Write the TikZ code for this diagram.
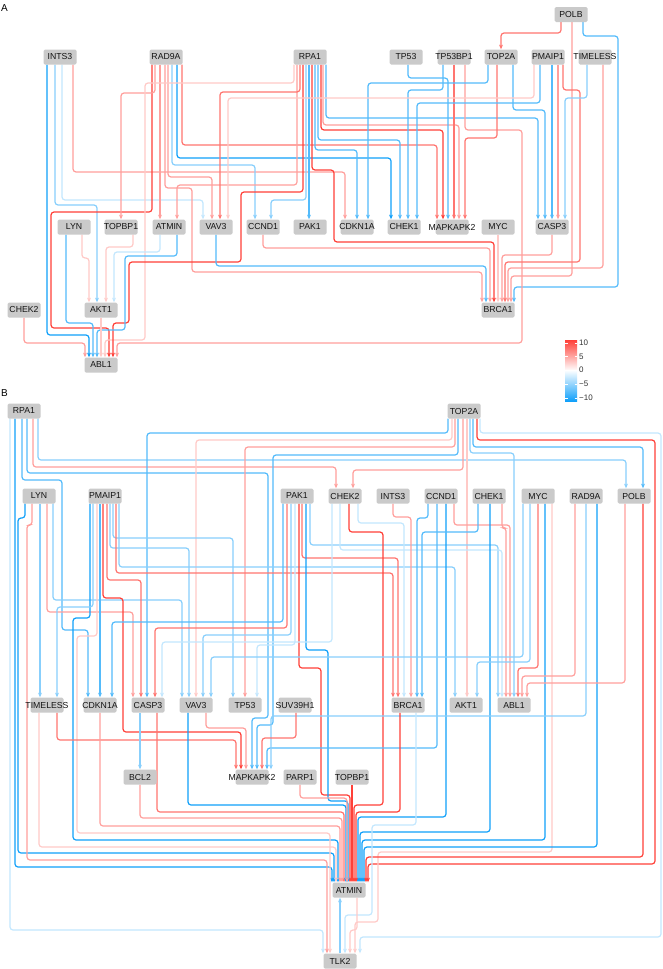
\documentclass[tikz,border=0pt]{standalone}
\usepackage{fontspec}
\newfontfamily\lsans{Liberation Sans}
\usetikzlibrary{arrows.meta,calc}
\pgfdeclarelayer{bg}
\pgfsetlayers{bg,main}
\definecolor{hi}{RGB}{255,64,56}
\definecolor{lo}{RGB}{16,160,250}
\definecolor{boxg}{RGB}{202,202,202}
\tikzset{
  gene/.style={rectangle, fill=boxg, rounded corners=1.5pt, minimum width=33pt, minimum height=15pt, inner sep=0pt, text=black!92, font=\lsans\fontsize{8.7}{9}\selectfont},
  ed/.style={line width=1.2pt, rounded corners=3pt, -{Stealth[length=4.6pt,width=3.8pt,inset=1.2pt]}},
  r1/.style={ed, draw=hi},
  r2/.style={ed, draw=hi!72!white},
  r3/.style={ed, draw=hi!50!white},
  r4/.style={ed, draw=hi!28!white},
  b1/.style={ed, draw=lo},
  b2/.style={ed, draw=lo!72!white},
  b3/.style={ed, draw=lo!50!white},
  b4/.style={ed, draw=lo!25!white},
  lbl/.style={font=\lsans\fontsize{10}{11}\selectfont, inner sep=0pt, anchor=west},
  leg/.style={font=\lsans\fontsize{8}{9}\selectfont, text=black!80, inner sep=0pt, anchor=west}
}
\newcommand\gn[4]{\node[gene] (#1) at (#2,#3) {\makebox[0pt]{#4}};}
\begin{document}
\begin{tikzpicture}[x=1pt,y=-1pt]
\useasboundingbox (0,0) rectangle (663,969);
\begin{pgfonlayer}{bg}
\fill[white] (0,0) rectangle (663,969);
\end{pgfonlayer}
% ---------------- panel A ----------------
\node[lbl] (labA) at (1,8) {A};
\gn{aPOLB}{571}{14.5}{POLB}
\gn{aINTS3}{60}{57}{INTS3}
\gn{aRAD9A}{166}{57}{RAD9A}
\gn{aRPA1}{310}{57}{RPA1}
\gn{aTP53}{406}{57}{TP53}
\gn{aTP53BP1}{454}{57}{TP53BP1}
\gn{aTOP2A}{501}{57}{TOP2A}
\gn{aPMAIP1}{548}{57}{PMAIP1}
\gn{aTIMELESS}{595}{57}{TIMELESS}
\gn{aLYN}{74}{227}{LYN}
\gn{aTOPBP1}{121}{227}{TOPBP1}
\gn{aATMIN}{169}{227}{ATMIN}
\gn{aVAV3}{216}{227}{VAV3}
\gn{aCCND1}{263}{227}{CCND1}
\gn{aPAK1}{310}{227}{PAK1}
\gn{aCDKN1A}{357}{227}{CDKN1A}
\gn{aCHEK1}{404}{227}{CHEK1}
\gn{aMAPKAPK2}{452}{227}{MAPKAPK2}
\gn{aMYC}{498}{227}{MYC}
\gn{aCASP3}{552}{227}{CASP3}
\gn{aCHEK2}{24}{310}{CHEK2}
\gn{aAKT1}{101}{310}{AKT1}
\gn{aBRCA1}{498}{310}{BRCA1}
\gn{aABL1}{101}{365}{ABL1}
\begin{pgfonlayer}{bg}
\draw[r2] ([xshift=-10pt]aPOLB.south) |- (501,33) -- (aTOP2A.north);
\draw[b2] ([xshift=12pt]aPOLB.south) |- (618,36) |- (514,287) -- ([xshift=16pt]aBRCA1.north);
\draw[r3] ([xshift=1pt]aPOLB.south) |- (511,276) -- ([xshift=13pt]aBRCA1.north);
\draw[b1] ([xshift=-13pt]aINTS3.south) |- (89,335) -- ([xshift=-12pt]aABL1.north);
\draw[b3] ([xshift=-5pt]aINTS3.south) |- (97,205) -- ([xshift=-4pt]aAKT1.north);
\draw[b4] ([xshift=2pt]aINTS3.south) |- (203,200) -- ([xshift=-13pt]aVAV3.north);
\draw[r3] ([xshift=13pt]aINTS3.south) |- (345,172) -- ([xshift=-12pt]aCDKN1A.north);
\draw[r1] ([xshift=-14pt]aRAD9A.south) |- (51,212) |- (109,328) -- ([xshift=8pt]aABL1.north);
\draw[r3] ([xshift=-11pt]aRAD9A.south) |- (121,93) -- (aTOPBP1.north);
\draw[r3] ([xshift=-6pt]aRAD9A.south) -- ([xshift=-9pt]aATMIN.north);
\draw[r3] ([xshift=-1pt]aRAD9A.south) |- (192,188) |- (482,272) -- ([xshift=-16pt]aBRCA1.north);
\draw[r3] ([xshift=2pt]aRAD9A.south) |- (212,177) -- ([xshift=-4pt]aVAV3.north);
\draw[b3] ([xshift=6pt]aRAD9A.south) |- (255,165) -- ([xshift=-8pt]aCCND1.north);
\draw[b1] ([xshift=11pt]aRAD9A.south) |- (391,158) -- ([xshift=-13pt]aCHEK1.north);
\draw[r2] ([xshift=16pt]aRAD9A.south) |- (437,145) -- ([xshift=-15pt]aMAPKAPK2.north);
\draw[r4] ([xshift=-16pt]aRPA1.south) |- (145,83) |- (105,340) -- ([xshift=4pt]aABL1.north);
\draw[r3] ([xshift=-13pt]aRPA1.south) |- (177,185) -- ([xshift=8pt]aATMIN.north);
\draw[r2] ([xshift=-10pt]aRPA1.south) |- (220,92) -- ([xshift=4pt]aVAV3.north);
\draw[r1] ([xshift=-7pt]aRPA1.south) |- (241,192) |- (129,262) |- (113,323) -- ([xshift=12pt]aABL1.north);
\draw[b3] ([xshift=-4pt]aRPA1.south) |- (271,200) -- ([xshift=8pt]aCCND1.north);
\draw[b2] ([xshift=-1pt]aRPA1.south) -- ([xshift=-1pt]aPAK1.north);
\draw[r1] ([xshift=2pt]aRPA1.south) |- (334,170) |- (494,242) -- ([xshift=-4pt]aBRCA1.north);
\draw[b2] ([xshift=5pt]aRPA1.south) |- (357,150) -- (aCDKN1A.north);
\draw[b2] ([xshift=8pt]aRPA1.south) |- (400,140) -- ([xshift=-4pt]aCHEK1.north);
\draw[r1] ([xshift=11pt]aRPA1.south) |- (443,130) -- ([xshift=-9pt]aMAPKAPK2.north);
\draw[r3] ([xshift=13pt]aRPA1.south) |- (459,125) -- ([xshift=7pt]aMAPKAPK2.north);
\draw[b2] ([xshift=16pt]aRPA1.south) |- (538,118) -- ([xshift=-14pt]aCASP3.north);
\draw[b2] ([xshift=2pt]aTP53.south) |- (448,78) -- ([xshift=-4pt]aMAPKAPK2.north);
\draw[b2] ([xshift=-11pt]aTP53BP1.south) |- (408,90) -- ([xshift=4pt]aCHEK1.north);
\draw[r2] (aTP53BP1.south) -- ([xshift=2pt]aMAPKAPK2.north);
\draw[r3] ([xshift=11pt]aTP53BP1.south) |- (522,130) |- (117,343) -- ([xshift=16pt]aABL1.north);
\draw[b2] ([xshift=-13pt]aTOP2A.south) |- (368,83) -- ([xshift=11pt]aCDKN1A.north);
\draw[r2] ([xshift=-4pt]aTOP2A.south) |- (465,138) -- ([xshift=13pt]aMAPKAPK2.north);
\draw[b2] ([xshift=12pt]aTOP2A.south) |- (545,110) -- ([xshift=-7pt]aCASP3.north);
\draw[r4] ([xshift=-14pt]aPMAIP1.south) |- (228,98) -- ([xshift=12pt]aVAV3.north);
\draw[b2] ([xshift=-8pt]aPMAIP1.south) |- (417,103) -- ([xshift=13pt]aCHEK1.north);
\draw[b2] ([xshift=4pt]aPMAIP1.south) -- (aCASP3.north);
\draw[r3] ([xshift=10pt]aPMAIP1.south) -- ([xshift=6pt]aCASP3.north);
\draw[r2] ([xshift=15pt]aPMAIP1.south) |- (580,90) |- (505,262) -- ([xshift=7pt]aBRCA1.north);
\draw[b3] ([xshift=-8pt]aTIMELESS.south) |- (565,98) -- ([xshift=13pt]aCASP3.north);
\draw[r3] ([xshift=8pt]aTIMELESS.south) |- (508,268) -- ([xshift=10pt]aBRCA1.north);
\draw[b2] ([xshift=-8pt]aLYN.south) |- (93,323) -- ([xshift=-8pt]aABL1.north);
\draw[r4] ([xshift=8pt]aLYN.south) |- (89,258) -- ([xshift=-12pt]aAKT1.north);
\draw[r4] ([xshift=12pt]aTOPBP1.south) |- (106,247) -- ([xshift=5pt]aAKT1.north);
\draw[b4] ([xshift=-9pt]aATMIN.south) |- (114,252) -- ([xshift=13pt]aAKT1.north);
\draw[b2] ([xshift=8pt]aATMIN.south) |- (125,256) |- (97,330) -- ([xshift=-4pt]aABL1.north);
\draw[r4] (aAKT1.south) -- (aABL1.north);
\draw[b2] (aVAV3.south) |- (486,266) -- ([xshift=-12pt]aBRCA1.north);
\draw[r3] (aCCND1.south) |- (490,248) -- ([xshift=-8pt]aBRCA1.north);
\draw[r4] (aMYC.south) -- (aBRCA1.north);
\draw[r3] (aCASP3.south) |- (502,255) -- ([xshift=4pt]aBRCA1.north);
\draw[r3] (aCHEK2.south) |- (85,343) -- ([xshift=-16pt]aABL1.north);
\end{pgfonlayer}
% legend
\shade[top color=hi, bottom color=white] (565,340) rectangle (577,370.5);
\shade[top color=white, bottom color=lo] (565,370) rectangle (577,401);
\foreach \yy in {343,356.5,370,384,398}{
  \draw[white, line width=0.6pt] (565,\yy) -- (567.5,\yy) (574.5,\yy) -- (577,\yy);
}
\node[leg] (lg1) at (579,343) {10};
\node[leg] (lg2) at (579,356.5) {5};
\node[leg] (lg3) at (579,370) {0};
\node[leg] (lg4) at (579,384) {−5};
\node[leg] (lg5) at (579,398) {−10};
% ---------------- panel B ----------------
\node[lbl] (labB) at (1,393) {B};
\gn{bRPA1}{24}{411}{RPA1}
\gn{bTOP2A}{464}{411}{TOP2A}
\gn{bLYN}{39}{496}{LYN}
\gn{bPMAIP1}{105}{496}{PMAIP1}
\gn{bPAK1}{297}{496}{PAK1}
\gn{bCHEK2}{345}{496}{CHEK2}
\gn{bINTS3}{393}{496}{INTS3}
\gn{bCCND1}{441}{496}{CCND1}
\gn{bCHEK1}{489}{496}{CHEK1}
\gn{bMYC}{538}{496}{MYC}
\gn{bRAD9A}{586}{496}{RAD9A}
\gn{bPOLB}{634}{496}{POLB}
\gn{bTIMELESS}{47}{705}{TIMELESS}
\gn{bCDKN1A}{100}{705}{CDKN1A}
\gn{bCASP3}{148}{705}{CASP3}
\gn{bVAV3}{196}{705}{VAV3}
\gn{bTP53}{245}{705}{TP53}
\gn{bSUV39H1}{295}{705}{SUV39H1}
\gn{bBRCA1}{408}{705}{BRCA1}
\gn{bAKT1}{466}{705}{AKT1}
\gn{bABL1}{514}{705}{ABL1}
\gn{bBCL2}{140}{777}{BCL2}
\gn{bMAPKAPK2}{252}{777}{MAPKAPK2}
\gn{bPARP1}{300}{777}{PARP1}
\gn{bTOPBP1}{352}{777}{TOPBP1}
\gn{bATMIN}{349}{890}{ATMIN}
\gn{bTLK2}{340}{961}{TLK2}
\begin{pgfonlayer}{bg}
% RPA1
\draw[b4] ([xshift=-14pt]bRPA1.south) |- (323,930) -- ([xshift=-17pt]bTLK2.north);
\draw[b1] ([xshift=-9pt]bRPA1.south) |- (332,867) -- ([xshift=-17pt]bATMIN.north);
\draw[b2] ([xshift=-2pt]bRPA1.south) |- (62,480) |- (88,630) -- ([xshift=-12pt]bCDKN1A.north);
\draw[b2] ([xshift=3pt]bRPA1.south) |- (268,473) |- (252,718) -- (bMAPKAPK2.north);
\draw[r3] ([xshift=9pt]bRPA1.south) |- (336,467) -- ([xshift=-9pt]bCHEK2.north);
\draw[b3] ([xshift=14pt]bRPA1.south) |- (626,460) -- ([xshift=-8pt]bPOLB.north);
% TOP2A
\draw[b2] ([xshift=-16pt]bTOP2A.south) |- (147,433) -- ([xshift=-1pt]bCASP3.north);
\draw[r4] ([xshift=-12pt]bTOP2A.south) |- (196,440) -- (bVAV3.north);
\draw[r3] ([xshift=-9pt]bTOP2A.south) |- (245,447) -- (bTP53.north);
\draw[b2] ([xshift=-6pt]bTOP2A.south) |- (273,455) |- (257,725) -- ([xshift=5pt]bMAPKAPK2.north);
\draw[r3] ([xshift=-1pt]bTOP2A.south) |- (353,470) -- ([xshift=8pt]bCHEK2.north);
\draw[r4] ([xshift=3pt]bTOP2A.south) -- ([xshift=1pt]bAKT1.north);
\draw[b3] ([xshift=6pt]bTOP2A.south) |- (514,453) -- (bABL1.north);
\draw[b2] ([xshift=9pt]bTOP2A.south) |- (643,447) -- ([xshift=9pt]bPOLB.north);
\draw[r1] ([xshift=13pt]bTOP2A.south) |- (655,440) |- (368,864) -- ([xshift=19pt]bATMIN.north);
\draw[b4] ([xshift=16pt]bTOP2A.south) |- (661,433) |- (360,937) -- ([xshift=20pt]bTLK2.north);
% LYN
\draw[b1] ([xshift=-14pt]bLYN.south) |- (18,518) |- (334,853) -- ([xshift=-15pt]bATMIN.north);
\draw[r3] ([xshift=-7pt]bLYN.south) |- (27,525) |- (327,860) -- ([xshift=-13pt]bTLK2.north);
\draw[b3] ([xshift=1pt]bLYN.south) -- ([xshift=-7pt]bTIMELESS.north);
\draw[r3] ([xshift=8pt]bLYN.south) |- (133,612) -- ([xshift=-15pt]bCASP3.north);
\draw[b3] ([xshift=14pt]bLYN.south) |- (182,600) -- ([xshift=-14pt]bVAV3.north);
% PMAIP1
\draw[b1] ([xshift=-15pt]bPMAIP1.south) |- (73,618) |- (338,840) -- ([xshift=-11pt]bATMIN.north);
\draw[b3] ([xshift=-12pt]bPMAIP1.south) |- (57,607) -- ([xshift=10pt]bTIMELESS.north);
\draw[r4] ([xshift=-8pt]bPMAIP1.south) |- (77,636) |- (330,833) -- ([xshift=-10pt]bTLK2.north);
\draw[b2] ([xshift=-5pt]bPMAIP1.south) -- (bCDKN1A.north);
\draw[r1] ([xshift=-2pt]bPMAIP1.south) |- (123,598) |- (241,732) -- ([xshift=-11pt]bMAPKAPK2.north);
\draw[r2] ([xshift=2pt]bPMAIP1.south) |- (141,580) -- ([xshift=-7pt]bCASP3.north);
\draw[b3] ([xshift=5pt]bPMAIP1.south) |- (189,548) -- ([xshift=-7pt]bVAV3.north);
\draw[b3] ([xshift=8pt]bPMAIP1.south) |- (233,538) -- ([xshift=-12pt]bTP53.north);
\draw[r2] ([xshift=11pt]bPMAIP1.south) |- (393,573) -- ([xshift=-15pt]bBRCA1.north);
\draw[b3] ([xshift=14pt]bPMAIP1.south) |- (455,567) -- ([xshift=-11pt]bAKT1.north);
% PAK1
\draw[b2] ([xshift=-14pt]bPAK1.south) |- (112,622) -- ([xshift=12pt]bCDKN1A.north);
\draw[r2] ([xshift=-10pt]bPAK1.south) |- (155,628) -- ([xshift=7pt]bCASP3.north);
\draw[b3] ([xshift=-6pt]bPAK1.south) |- (203,635) -- ([xshift=7pt]bVAV3.north);
\draw[b4] ([xshift=-2pt]bPAK1.south) |- (257,645) -- ([xshift=12pt]bTP53.north);
\draw[r1] ([xshift=2pt]bPAK1.south) |- (321,668) |- (350,795) -- ([xshift=1pt]bATMIN.north);
\draw[r2] ([xshift=5pt]bPAK1.south) |- (398,558) -- ([xshift=-10pt]bBRCA1.north);
\draw[b1] ([xshift=9pt]bPAK1.south) |- (328,650) |- (348,801) -- ([xshift=-1pt]bATMIN.north);
\draw[b3] ([xshift=13pt]bPAK1.south) |- (498,545) -- ([xshift=-16pt]bABL1.north);
% CHEK2
\draw[b4] ([xshift=-13pt]bCHEK2.south) |- (162,642) -- ([xshift=14pt]bCASP3.north);
\draw[b4] ([xshift=-5pt]bCHEK2.south) |- (502,550) -- ([xshift=-12pt]bABL1.north);
\draw[r1] ([xshift=4pt]bCHEK2.south) |- (383,532) |- (354,805) -- ([xshift=5pt]bATMIN.north);
\draw[b4] ([xshift=13pt]bCHEK2.south) |- (404,523) -- ([xshift=-4pt]bBRCA1.north);
% INTS3, CCND1, CHEK1
\draw[r3] (bINTS3.south) |- (411,517) -- ([xshift=3pt]bBRCA1.north);
\draw[b2] ([xshift=-13pt]bCCND1.south) |- (417,518) -- ([xshift=9pt]bBRCA1.north);
\draw[b2] ([xshift=-4pt]bCCND1.south) |- (267,748) -- ([xshift=15pt]bMAPKAPK2.north);
\draw[b1] ([xshift=5pt]bCCND1.south) |- (358,817) -- ([xshift=9pt]bATMIN.north);
\draw[r3] ([xshift=13pt]bCCND1.south) |- (510,525) -- ([xshift=-4pt]bABL1.north);
\draw[b2] ([xshift=-11pt]bCHEK1.south) |- (422,532) -- ([xshift=14pt]bBRCA1.north);
\draw[b1] ([xshift=1pt]bCHEK1.south) |- (360,832) -- ([xshift=11pt]bATMIN.north);
\draw[r3] ([xshift=13pt]bCHEK1.south) |- (506,528) -- ([xshift=-8pt]bABL1.north);
% MYC, RAD9A, POLB
\draw[b3] ([xshift=-15pt]bMYC.south) |- (211,657) -- ([xshift=15pt]bVAV3.north);
\draw[b3] ([xshift=-8pt]bMYC.south) |- (477,662) -- ([xshift=11pt]bAKT1.north);
\draw[r2] (bMYC.south) |- (518,668) -- ([xshift=4pt]bABL1.north);
\draw[b1] ([xshift=7pt]bMYC.south) |- (362,840) -- ([xshift=13pt]bATMIN.north);
\draw[r4] ([xshift=14pt]bMYC.south) |- (378,852) |- (355,922) -- ([xshift=15pt]bTLK2.north);
\draw[r3] ([xshift=-11pt]bRAD9A.south) |- (522,676) -- ([xshift=8pt]bABL1.north);
\draw[b3] (bRAD9A.south) |- (271,716) -- ([xshift=19pt]bMAPKAPK2.north);
\draw[b1] ([xshift=11pt]bRAD9A.south) |- (364,847) -- ([xshift=15pt]bATMIN.north);
\draw[r3] ([xshift=-9pt]bPOLB.south) |- (527,683) -- ([xshift=13pt]bABL1.north);
\draw[r1] ([xshift=9pt]bPOLB.south) |- (366,857) -- ([xshift=17pt]bATMIN.north);
% row 3 and 4 sources
\draw[r4] ([xshift=-8pt]bTIMELESS.south) |- (336,847) -- ([xshift=-13pt]bATMIN.north);
\draw[r2] ([xshift=10pt]bTIMELESS.south) |- (236,740) -- ([xshift=-16pt]bMAPKAPK2.north);
\draw[r3] (bCDKN1A.south) |- (340,826) -- ([xshift=-9pt]bATMIN.north);
\draw[b3] ([xshift=-8pt]bCASP3.south) -- (bBCL2.north);
\draw[r2] ([xshift=9pt]bCASP3.south) |- (344,812) -- ([xshift=-5pt]bATMIN.north);
\draw[b1] ([xshift=-8pt]bVAV3.south) |- (346,805) -- ([xshift=-3pt]bATMIN.north);
\draw[r3] ([xshift=10pt]bVAV3.south) |- (246,728) -- ([xshift=-6pt]bMAPKAPK2.north);
\draw[r2] ([xshift=1pt]bSUV39H1.south) |- (262,738) -- ([xshift=10pt]bMAPKAPK2.north);
\draw[r1] ([xshift=-8pt]bBRCA1.south) |- (356,812) -- ([xshift=7pt]bATMIN.north);
\draw[b4] ([xshift=8pt]bBRCA1.south) |- (372,825) |- (345,915) -- ([xshift=5pt]bTLK2.north);
\draw[r3] (bBCL2.south) |- (342,818) -- ([xshift=-7pt]bATMIN.north);
\draw[r3] (bPARP1.south) |- (347,798) -- ([xshift=-2pt]bATMIN.north);
\draw[r1] (bTOPBP1.south) -- ([xshift=3pt]bATMIN.north);
\draw[r4] ([xshift=8pt]bATMIN.south) |- (350,930) -- ([xshift=10pt]bTLK2.north);
\draw[b3] (bTLK2.north) -- ([xshift=-9pt]bATMIN.south);
\end{pgfonlayer}
\end{tikzpicture}
\end{document}
